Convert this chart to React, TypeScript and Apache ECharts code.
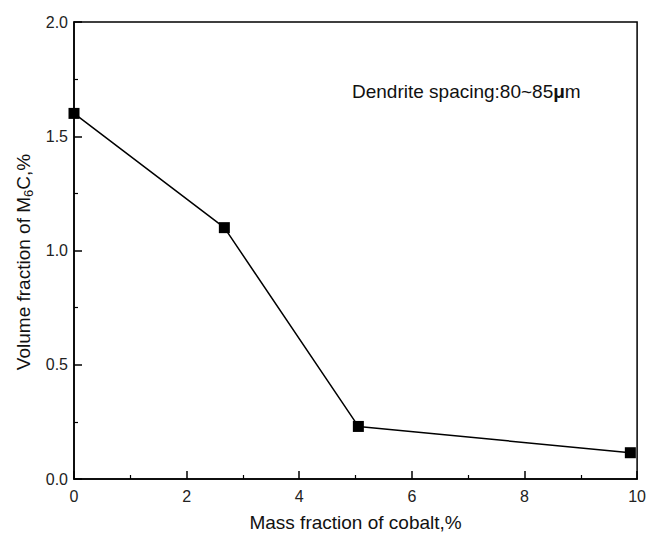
import React, { useEffect, useRef } from "react";
import * as echarts from "echarts";

const cobalt = [0, 2.67, 5.05, 9.88];
const volumeM6C = [1.6, 1.1, 0.23, 0.115];
const xTitle = "Mass fraction of cobalt,%";
const yTitle = "Volume fraction of M{sub|6}C,%";
const note = "Dendrite spacing:80~85{mu|μ}m";

export default function App() {
  const ref = useRef<HTMLDivElement>(null);
  useEffect(() => {
    if (!ref.current) return;
    const chart = echarts.init(ref.current, null, { renderer: "svg" });
    const font = "Liberation Sans, Arial, sans-serif";
    chart.setOption({
      animation: false,
      backgroundColor: "#ffffff",
      grid: {
        left: 74,
        right: 10,
        top: 22,
        bottom: 60,
        show: true,
        borderColor: "#000",
        borderWidth: 1.5,
        backgroundColor: "transparent",
      },
      xAxis: {
        type: "value",
        min: 0,
        max: 10,
        interval: 2,
        name: xTitle,
        nameLocation: "middle",
        nameGap: 34,
        nameTextStyle: { fontFamily: font, fontSize: 19, color: "#111" },
        axisLine: { show: true, onZero: false, lineStyle: { color: "#000", width: 1.5 } },
        axisTick: { show: true, inside: true, length: 8, lineStyle: { color: "#000", width: 1.5 } },
        minorTick: { show: true, splitNumber: 2, length: 4, lineStyle: { color: "#000", width: 1.2 } },
        splitLine: { show: false },
        axisLabel: { fontFamily: font, fontSize: 16, color: "#222", margin: 9 },
      },
      yAxis: {
        type: "value",
        min: 0,
        max: 2,
        interval: 0.5,
        axisLine: { show: true, onZero: false, lineStyle: { color: "#000", width: 1.5 } },
        axisTick: { show: true, inside: true, length: 8, lineStyle: { color: "#000", width: 1.5 } },
        minorTick: { show: true, splitNumber: 2, length: 4, lineStyle: { color: "#000", width: 1.2 } },
        splitLine: { show: false },
        axisLabel: {
          fontFamily: font,
          fontSize: 16,
          color: "#222",
          margin: 6,
          formatter: (v: number) => v.toFixed(1),
        },
      },
      graphic: [
        {
          type: "text",
          x: 23,
          y: 262,
          rotation: Math.PI / 2,
          style: {
            text: yTitle,
            font: `19px ${font}`,
            fill: "#111",
            align: "center",
            verticalAlign: "middle",
            rich: {
              sub: { fontFamily: font, fontSize: 13, fill: "#111", padding: [10, 0, 0, 0] },
            },
          },
        },
        {
          type: "text",
          left: 352,
          top: 82,
          style: {
            text: note,
            font: `19px ${font}`,
            fill: "#111",
            rich: {
              mu: { fontFamily: font, fontSize: 19, fontWeight: "bold", fill: "#111" },
            },
          },
        },
      ],
      series: [
        {
          type: "line",
          data: cobalt.map((x, i) => [x, volumeM6C[i]]),
          symbol: "rect",
          symbolSize: 11,
          lineStyle: { color: "#000", width: 1.5 },
          itemStyle: { color: "#000" },
        },
      ],
    });
    return () => chart.dispose();
  }, []);
  return (
    <div
      ref={ref}
      style={{ position: "fixed", left: 0, top: 0, width: 649, height: 539, background: "#fff" }}
    />
  );
}
